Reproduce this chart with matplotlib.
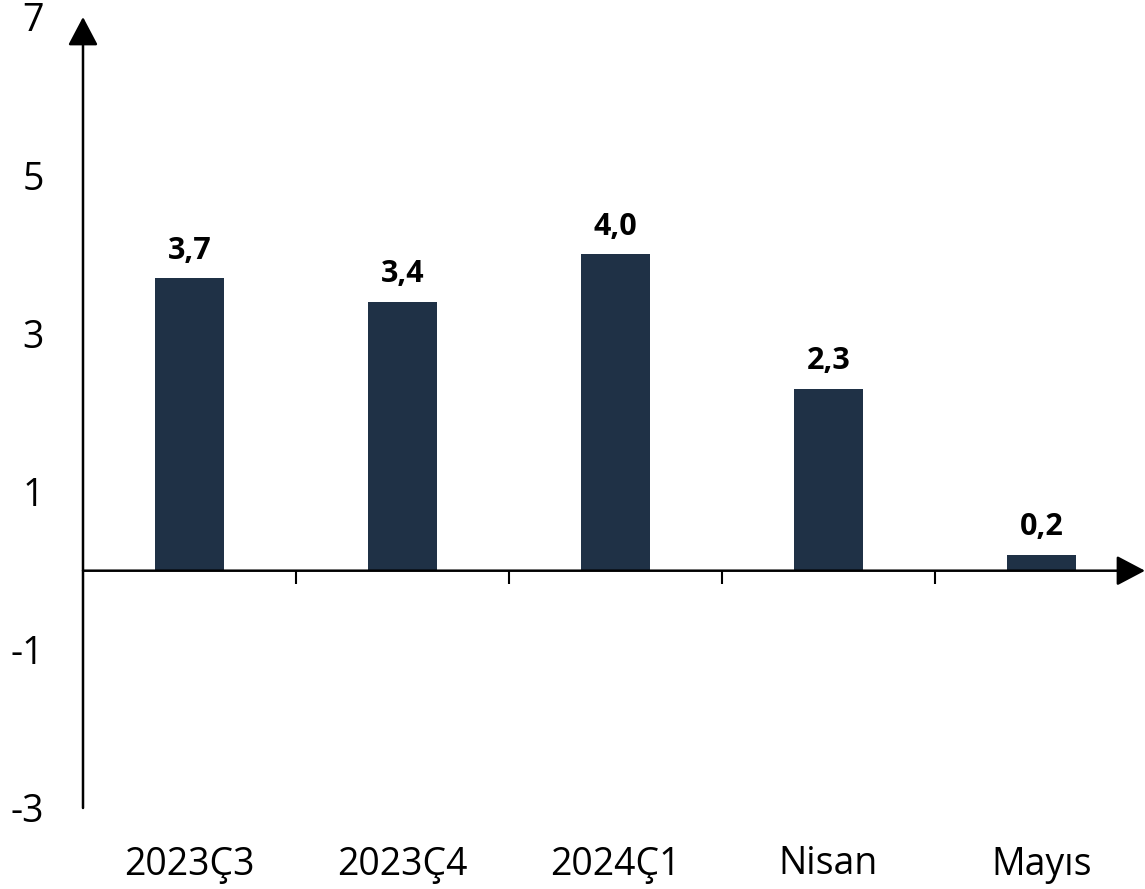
import matplotlib.pyplot as plt

plt.rcParams['font.family'] = ['Open Sans', 'DejaVu Sans']

categories = ['2023Ç3', '2023Ç4', '2024Ç1', 'Nisan', 'Mayıs']
values = [3.7, 3.4, 4.0, 2.3, 0.2]
yticks = [-3, -1, 1, 3, 5, 7]

bar_color = '#1f3146'

fig = plt.figure(figsize=(11.45, 8.89), dpi=100)
# axes box in pixels: left 83, right 1145, bottom 808, top 17
ax = fig.add_axes([83 / 1145, (889 - 808) / 889, (1145 - 83) / 1145, (808 - 17) / 889])

x = list(range(len(categories)))
ax.bar(x, values, width=0.32, color=bar_color, zorder=2)

ax.set_xlim(-0.5, -0.5 + 1062 / 213)
ax.set_ylim(-3, 7)

for s in ['top', 'right', 'left', 'bottom']:
    ax.spines[s].set_visible(False)
ax.spines['bottom'].set_position(('data', 0))

# small marks between the categories on the zero line
ax.set_xticks([0.5, 1.5, 2.5, 3.5])
ax.set_xticklabels([])
ax.tick_params(axis='x', direction='out', length=9.5, width=1.5)

ax.set_yticks(yticks)
ax.set_yticklabels([str(t) for t in yticks])
ax.tick_params(axis='y', length=0, pad=28, labelsize=27)

# category labels at the bottom
sec = ax.secondary_xaxis(0)
sec.set_xticks(x)
sec.set_xticklabels(categories)
sec.tick_params(length=0, pad=27, labelsize=27)
sec.spines['bottom'].set_visible(False)

# axis lines with arrow heads
y0 = 3 / 10  # zero line in axes fraction
arrow = dict(arrowstyle='-|>,head_length=1.1,head_width=0.58', mutation_scale=16,
             color='black', lw=1.8, shrinkA=0, shrinkB=0)
ax.annotate('', xy=(0, 1), xytext=(0, 0), xycoords='axes fraction', arrowprops=arrow)
ax.annotate('', xy=(1, y0), xytext=(0, y0), xycoords='axes fraction', arrowprops=arrow)

for xi, v in zip(x, values):
    ax.annotate(f'{v:.1f}'.replace('.', ','), (xi, v), xytext=(0, 14),
                textcoords='offset points', ha='center', va='baseline',
                fontsize=22, fontweight='bold')

fig.savefig('out.png', dpi=100)
